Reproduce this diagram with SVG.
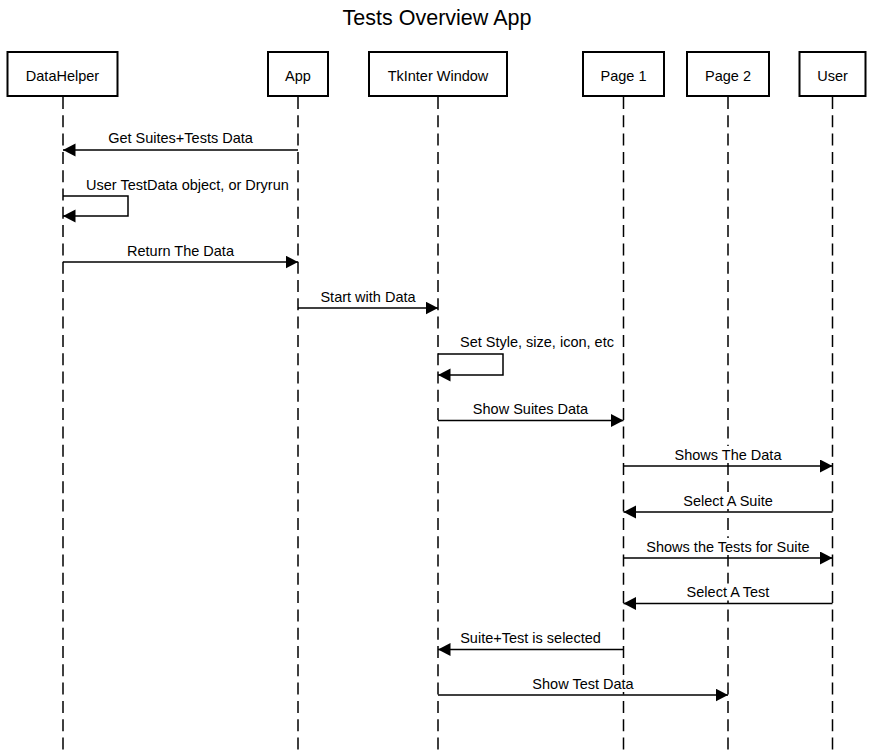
<svg xmlns="http://www.w3.org/2000/svg" width="874" height="752" viewBox="0 0 874 752">
<defs>
<marker id="ah" markerUnits="userSpaceOnUse" markerWidth="14" markerHeight="14" refX="12.5" refY="6.5" orient="auto">
<path d="M0,0 L12.5,6.5 L0,13 z" fill="#000"/>
</marker>
<style>
text{font-family:"Liberation Sans",Arial,sans-serif;fill:#000}
.title{font-size:21.5px;text-anchor:middle}
.hdr{font-size:14.5px;text-anchor:middle}
.lbl{font-size:14.5px;text-anchor:middle}
.lbls{font-size:14.5px;text-anchor:start}
.box{fill:#fff;stroke:#000;stroke-width:2}
.life{stroke:#000;stroke-width:1.5;stroke-dasharray:12 6.3;fill:none}
.msg{stroke:#000;stroke-width:1.5;fill:none;marker-end:url(#ah)}
.bg{fill:#fff;stroke:none}
</style>
</defs>
<rect width="874" height="752" fill="#fff"/>
<text class="title" x="437" y="25">Tests Overview App</text>

<g id="datahelper">
<line class="life" x1="63" y1="97" x2="63" y2="752"/>
<rect class="box" x="7.5" y="52" width="110" height="44"/>
<text class="hdr" x="62.5" y="81">DataHelper</text>
</g>
<g id="app">
<line class="life" x1="298" y1="97" x2="298" y2="752"/>
<rect class="box" x="268" y="52" width="60" height="44"/>
<text class="hdr" x="298" y="81">App</text>
</g>
<g id="tkinter">
<line class="life" x1="438" y1="97" x2="438" y2="752"/>
<rect class="box" x="369" y="52" width="138" height="44"/>
<text class="hdr" x="438" y="81">TkInter Window</text>
</g>
<g id="page1">
<line class="life" x1="623.5" y1="97" x2="623.5" y2="752"/>
<rect class="box" x="583" y="52" width="81" height="44"/>
<text class="hdr" x="623.5" y="81">Page 1</text>
</g>
<g id="page2">
<line class="life" x1="728" y1="97" x2="728" y2="752"/>
<rect class="box" x="687" y="52" width="82" height="44"/>
<text class="hdr" x="728" y="81">Page 2</text>
</g>
<g id="user">
<line class="life" x1="832.5" y1="97" x2="832.5" y2="752"/>
<rect class="box" x="799.5" y="52" width="66" height="44"/>
<text class="hdr" x="832.5" y="81">User</text>
</g>

<g id="connectors">
<line class="msg" x1="298" y1="150" x2="63" y2="150"/>
<text class="lbl" x="180.5" y="143">Get Suites+Tests Data</text>

<path class="msg" d="M63,196 H128 V216 H63"/>
<text class="lbls" x="86" y="189.5">User TestData object, or Dryrun</text>

<line class="msg" x1="63" y1="262" x2="298" y2="262"/>
<text class="lbl" x="180.5" y="256">Return The Data</text>

<line class="msg" x1="298" y1="308" x2="438" y2="308"/>
<text class="lbl" x="368" y="301.5">Start with Data</text>

<path class="msg" d="M438,354 H503 V375 H438"/>
<text class="lbls" x="460" y="347">Set Style, size, icon, etc</text>

<line class="msg" x1="438" y1="420.5" x2="623.5" y2="420.5"/>
<text class="lbl" x="530.5" y="414">Show Suites Data</text>

<line class="msg" x1="623.5" y1="466" x2="832.5" y2="466"/>
<rect class="bg" x="673" y="446" width="110" height="17"/>
<text class="lbl" x="728" y="459.5">Shows The Data</text>

<line class="msg" x1="832.5" y1="512" x2="623.5" y2="512"/>
<rect class="bg" x="682" y="492" width="92" height="17"/>
<text class="lbl" x="728" y="505.5">Select A Suite</text>

<line class="msg" x1="623.5" y1="558" x2="832.5" y2="558"/>
<rect class="bg" x="645" y="538" width="166" height="17"/>
<text class="lbl" x="728" y="551.5">Shows the Tests for Suite</text>

<line class="msg" x1="832.5" y1="603.5" x2="623.5" y2="603.5"/>
<rect class="bg" x="685" y="583.5" width="87" height="17"/>
<text class="lbl" x="728" y="597">Select A Test</text>

<line class="msg" x1="623.5" y1="649.5" x2="438" y2="649.5"/>
<text class="lbl" x="530.5" y="643">Suite+Test is selected</text>

<line class="msg" x1="438" y1="695" x2="728" y2="695"/>
<rect class="bg" x="531" y="675" width="103" height="17"/>
<text class="lbl" x="583" y="688.5">Show Test Data</text>
</g>
</svg>
